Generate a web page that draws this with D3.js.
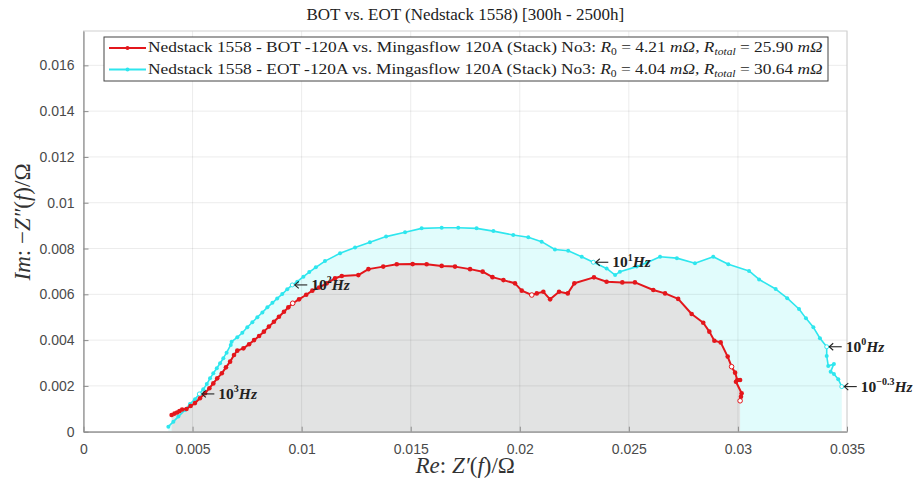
<!DOCTYPE html>
<html><head><meta charset="utf-8">
<script src="https://cdn.jsdelivr.net/npm/d3@7"></script>
<style>body{margin:0;background:#fff}svg{display:block}</style>
</head><body>
<svg id="c" width="916" height="482"></svg>
<script>
// ---- data ----
const titleText = "BOT vs. EOT (Nedstack 1558) [300h - 2500h]";
const xTicks = [0,0.005,0.01,0.015,0.02,0.025,0.03,0.035];
const xTickLabels = ["0","0.005","0.01","0.015","0.02","0.025","0.03","0.035"];
const yTicks = [0,0.002,0.004,0.006,0.008,0.01,0.012,0.014,0.016];
const yTickLabels = ["0","0.002","0.004","0.006","0.008","0.01","0.012","0.014","0.016"];

const botRe = [0.00404,0.00417,0.00429,0.00440,0.00452,0.00472,0.00491,0.00511,0.00534,0.00557,
0.00577,0.00595,0.00613,0.00634,0.00653,0.00672,0.00690,0.00705,0.00733,0.00759,
0.00782,0.00805,0.00827,0.00850,0.00873,0.00896,0.00919,0.00939,0.00959,0.00988,
0.01021,0.01049,0.01080,0.01115,0.01153,0.01184,0.01260,0.01306,0.01374,0.01436,
0.01509,0.01573,0.01642,0.01703,0.01772,0.01830,0.01875,0.01925,0.01978,0.02009,
0.02055,0.02078,0.02108,0.02139,0.02180,0.02220,0.02250,0.02340,0.02398,0.02470,
0.02528,0.02612,0.02666,0.02726,0.02788,0.02841,0.02869,0.02892,0.02921,0.02953,
0.02971,0.02987,0.02997,0.03010,0.02991,0.03017,0.03014,0.03010];
const botIm = [0.00073,0.00079,0.00084,0.00090,0.00097,0.00099,0.00112,0.00125,0.00146,0.00168,
0.00190,0.00211,0.00233,0.00255,0.00281,0.00306,0.00335,0.00354,0.00364,0.00382,
0.00400,0.00418,0.00437,0.00459,0.00480,0.00502,0.00524,0.00543,0.00561,0.00578,
0.00598,0.00616,0.00630,0.00648,0.00670,0.00680,0.00684,0.00710,0.00721,0.00731,
0.00732,0.00731,0.00724,0.00721,0.00710,0.00699,0.00675,0.00662,0.00648,0.00616,
0.00597,0.00604,0.00611,0.00578,0.00611,0.00604,0.00648,0.00674,0.00655,0.00652,
0.00652,0.00619,0.00604,0.00580,0.00514,0.00476,0.00437,0.00397,0.00390,0.00328,
0.00284,0.00258,0.00226,0.00226,0.00218,0.00168,0.00153,0.00135];
const botHollow = [28,50,70,77];

const eotRe = [0.00389,0.00412,0.00435,0.00465,0.00488,0.00511,0.00531,0.00549,0.00565,0.00580,
0.00595,0.00611,0.00626,0.00641,0.00656,0.00675,0.00679,0.00705,0.00728,0.00751,
0.00774,0.00797,0.00820,0.00843,0.00866,0.00888,0.00911,0.00934,0.00957,0.00980,
0.01008,0.01035,0.01065,0.01107,0.01176,0.01245,0.01313,0.01387,0.01474,0.01550,
0.01642,0.01718,0.01802,0.01879,0.01970,0.02039,0.02100,0.02161,0.02222,0.02284,
0.02337,0.02398,0.02437,0.02459,0.02536,0.02582,0.02643,0.02720,0.02803,0.02887,
0.02956,0.03051,0.03097,0.03173,0.03226,0.03280,0.03312,0.03346,0.03376,0.03407,
0.03407,0.03414,0.03440,0.03425,0.03440,0.03460,0.03476];
const eotIm = [0.00022,0.00044,0.00066,0.00095,0.00121,0.00142,0.00165,0.00185,0.00208,0.00233,
0.00255,0.00277,0.00299,0.00321,0.00345,0.00379,0.00393,0.00412,0.00432,0.00456,
0.00478,0.00500,0.00521,0.00543,0.00563,0.00582,0.00601,0.00622,0.00641,0.00655,
0.00677,0.00697,0.00718,0.00745,0.00779,0.00804,0.00827,0.00852,0.00871,0.00888,
0.00891,0.00891,0.00888,0.00876,0.00859,0.00849,0.00830,0.00796,0.00790,0.00764,
0.00740,0.00713,0.00684,0.00699,0.00721,0.00738,0.00764,0.00758,0.00736,0.00764,
0.00731,0.00702,0.00665,0.00623,0.00583,0.00536,0.00495,0.00456,0.00408,0.00371,
0.00331,0.00287,0.00296,0.00262,0.00252,0.00229,0.00197];
const eotHollow = [6,28,50,69,76];
const freqExps = ["3","2","1","0","\u22120.3"];

const legendNames = ["Nedstack 1558 - BOT -120A vs. Mingasflow 120A (Stack) No3: ",
                     "Nedstack 1558 - EOT -120A vs. Mingasflow 120A (Stack) No3: "];
const legendR0 = ["4.21","4.04"];
const legendRtot = ["25.90","30.64"];

// ---- styles ----
const RED = "#e3171c", CYAN = "#2ee6ee";
const SERIF = "'Liberation Serif','DejaVu Serif',serif";
const SANS = "'Liberation Sans',Arial,sans-serif";

const svg = d3.select("#c");
const L = 83.5, R = 847, T = 31, B = 431.7;
const x = d3.scaleLinear().domain([0,0.035]).range([L,R]);
const y = d3.scaleLinear().domain([0,0.0175]).range([B,T]);

const bot = botRe.map((v,i)=>({re:v, im:botIm[i]}));
const eot = eotRe.map((v,i)=>({re:v, im:eotIm[i]}));

// fills
const area = d3.area().x(d=>x(d.re)).y0(y(0)).y1(d=>y(d.im));
svg.append("path").attr("d", area(eot)).attr("fill","#e1fcfc");
svg.append("path").attr("d", area(bot)).attr("fill","#e2e3e3");

// grid
const g = svg.append("g");
g.selectAll(".gx").data(xTicks).join("line")
  .attr("x1",d=>x(d)).attr("x2",d=>x(d)).attr("y1",T).attr("y2",B)
  .attr("stroke","#000").attr("stroke-opacity",0.08).attr("stroke-width",1);
g.selectAll(".gy").data(yTicks).join("line")
  .attr("x1",L).attr("x2",R).attr("y1",d=>y(d)).attr("y2",d=>y(d))
  .attr("stroke","#000").attr("stroke-opacity",0.08).attr("stroke-width",1);

// box
svg.append("rect").attr("x",L).attr("y",T).attr("width",R-L).attr("height",B-T)
  .attr("fill","none").attr("stroke","#d0d0d0").attr("stroke-width",1);

// axes
const xAxis = d3.axisBottom(x).tickValues(xTicks).tickFormat((d,i)=>xTickLabels[i]).tickSizeInner(-5).tickSizeOuter(0).tickPadding(12);
const yAxis = d3.axisLeft(y).tickValues(yTicks).tickFormat((d,i)=>yTickLabels[i]).tickSizeInner(-5).tickSizeOuter(0).tickPadding(9);
const ax = svg.append("g").attr("transform",`translate(0,${B})`).call(xAxis);
const ay = svg.append("g").attr("transform",`translate(${L},0)`).call(yAxis);
[ax,ay].forEach(a=>{
  a.select(".domain").attr("stroke","#8c8c8c").attr("stroke-width",1.2);
  a.selectAll(".tick line").attr("stroke","#8c8c8c");
  a.selectAll(".tick text").attr("font-family",SANS).attr("font-size",14).attr("fill","#4a4a4a");
});
ay.selectAll(".tick text").attr("dy","0.32em");

// lines
const line = d3.line().x(d=>x(d.re)).y(d=>y(d.im));
function drawSeries(data, col, w, hollow, r){
  svg.append("path").attr("d", line(data)).attr("fill","none").attr("stroke",col).attr("stroke-width",w).attr("stroke-linejoin","round");
  svg.append("g").selectAll("circle").data(data).join("circle")
    .attr("cx",d=>x(d.re)).attr("cy",d=>y(d.im)).attr("r",r)
    .attr("fill",(d,i)=>hollow.includes(i)?"#fff":col)
    .attr("stroke",col).attr("stroke-width",(d,i)=>hollow.includes(i)?1:0);
}
drawSeries(eot, CYAN, 1.6, eotHollow, 2.0);
drawSeries(bot, RED, 2.0, botHollow, 2.3);

// frequency annotations
eotHollow.forEach((idx,k)=>{
  const p = eot[idx];
  const px = x(p.re), py = y(p.im);
  const ag = svg.append("g").attr("stroke","#222").attr("fill","none").attr("stroke-width",1.1);
  ag.append("line").attr("x1",px+2.5).attr("x2",px+15).attr("y1",py).attr("y2",py);
  ag.append("path").attr("d",`M${px+6.5},${py-3.5} L${px+2.5},${py} L${px+6.5},${py+3.5}`);
  const t = svg.append("text").attr("x", px+19).attr("y", py+5)
    .attr("font-family",SERIF).attr("font-size",15.5).attr("font-weight","bold").attr("fill","#222");
  t.append("tspan").text("10");
  t.append("tspan").attr("dy",-6.5).attr("font-size",10).text(freqExps[k]);
  t.append("tspan").attr("dy",6.5).attr("font-style","italic").text("Hz");
});

// title
svg.append("text").attr("x",(L+R)/2).attr("y",20).attr("text-anchor","middle")
  .attr("font-family",SERIF).attr("font-size",17).attr("fill","#222").text(titleText);

// axis labels
const xl = svg.append("text").attr("x",(L+R)/2).attr("y",473).attr("text-anchor","middle")
  .attr("font-family",SERIF).attr("font-size",23).attr("fill","#333");
xl.append("tspan").attr("font-style","italic").text("Re");
xl.append("tspan").text(": ");
xl.append("tspan").attr("font-style","italic").text("Z\u2032");
xl.append("tspan").text("(");
xl.append("tspan").attr("font-style","italic").text("f");
xl.append("tspan").text(")/\u03A9");

const yl = svg.append("text").attr("transform",`translate(30,222) rotate(-90)`).attr("text-anchor","middle")
  .attr("font-family",SERIF).attr("font-size",23).attr("fill","#333");
yl.append("tspan").attr("font-style","italic").text("Im");
yl.append("tspan").text(": \u2212");
yl.append("tspan").attr("font-style","italic").text("Z\u2033");
yl.append("tspan").text("(");
yl.append("tspan").attr("font-style","italic").text("f");
yl.append("tspan").text(")/\u03A9");

// legend
const lg = svg.append("g");
lg.append("rect").attr("x",104).attr("y",37).attr("width",724).attr("height",44)
  .attr("fill","#fff").attr("stroke","#444").attr("stroke-width",1);
const cols = [RED, CYAN];
const rows = [];
[0,1].forEach(i=>{
  const yy = 48 + i*21.5;
  lg.append("line").attr("x1",109).attr("x2",146).attr("y1",yy).attr("y2",yy).attr("stroke",cols[i]).attr("stroke-width",2);
  lg.append("circle").attr("cx",127.5).attr("cy",yy).attr("r",2).attr("fill",cols[i]);
  const t = lg.append("text").attr("x",148).attr("y",yy+4.5).attr("font-family",SERIF).attr("font-size",15).attr("fill","#222");
  t.append("tspan").text(legendNames[i]);
  t.append("tspan").attr("font-style","italic").text("R");
  t.append("tspan").attr("font-size",10).attr("dy",3).text("0");
  t.append("tspan").attr("dy",-3).text(" = " + legendR0[i] + " ");
  t.append("tspan").attr("font-style","italic").text("m\u03A9");
  t.append("tspan").text(", ");
  t.append("tspan").attr("font-style","italic").text("R");
  t.append("tspan").attr("font-size",10).attr("font-style","italic").attr("dy",3).text("total");
  t.append("tspan").attr("dy",-3).text(" = " + legendRtot[i] + " ");
  t.append("tspan").attr("font-style","italic").text("m\u03A9");
  rows.push(t);
});
// fit legend text width to box
rows.forEach(t=>{
  const w = t.node().getComputedTextLength();
  const s = 675 / w;
  t.attr("transform",`translate(148,${+t.attr("y")}) scale(${s},1) translate(-148,${-t.attr("y")})`);
});
</script>
</body></html>
